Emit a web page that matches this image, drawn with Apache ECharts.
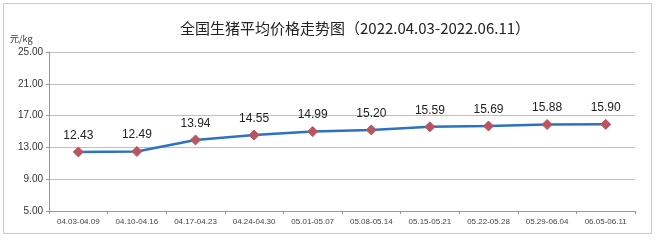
<!DOCTYPE html>
<html><head><meta charset="utf-8">
<script src="https://cdn.jsdelivr.net/npm/echarts@6/dist/echarts.min.js"></script>
<style>html,body{margin:0;padding:0;background:#fff}#c{width:656px;height:240px}</style>
</head><body><div id="c"></div>
<script>
const categories = ['04.03-04.09','04.10-04.16','04.17-04.23','04.24-04.30','05.01-05.07','05.08-05.14','05.15-05.21','05.22-05.28','05.29-06.04','06.05-06.11'];
const prices = [12.43, 12.49, 13.94, 14.55, 14.99, 15.20, 15.59, 15.69, 15.88, 15.90];
const yTicks = { min: 5, max: 25, interval: 4 };
const titleText = '全国生猪平均价格走势图（2022.04.03-2022.06.11）';
const unitText = '元/kg';

const chart = echarts.init(document.getElementById('c'), null, {renderer:'canvas'});
chart.setOption({
  animation:false,
  backgroundColor:'#fff',
  graphic:[
    {type:'rect',shape:{x:3.5,y:3.5,width:648,height:230},style:{fill:'none',stroke:'#c8c8c8',lineWidth:1}},
    {type:'text',left:10,top:34,style:{text:unitText,fontSize:9,fill:'#333',fontFamily:'Noto Sans CJK SC'}}
  ],
  title:{text:titleText,left:175,top:16,textStyle:{fontSize:15,fontWeight:'normal',color:'#222',fontFamily:'Noto Sans CJK SC'}},
  grid:{left:49,right:21,top:52,bottom:29,containLabel:false},
  xAxis:{type:'category',data:categories,boundaryGap:true,
    axisLine:{lineStyle:{color:'#999'}},
    axisTick:{show:true,length:3,lineStyle:{color:'#999'}},
    axisLabel:{fontSize:8,color:'#444',margin:7,interval:0,fontFamily:'Liberation Sans'},
    splitLine:{show:false}},
  yAxis:{type:'value',min:yTicks.min,max:yTicks.max,interval:yTicks.interval,
    axisLine:{show:true,lineStyle:{color:'#999'}},
    axisTick:{show:true,length:3,lineStyle:{color:'#999'}},
    axisLabel:{fontSize:10,color:'#333',margin:6,formatter:v=>v.toFixed(2),fontFamily:'Liberation Sans'},
    splitLine:{lineStyle:{color:'#bfbfbf',width:1}}},
  series:[{type:'line',data:prices,
    lineStyle:{color:'#2b72c0',width:2.5},
    symbol:'diamond',symbolSize:10,
    itemStyle:{color:'#b85560',borderColor:'#b85560'},
    label:{show:true,position:'top',distance:5,fontSize:12,color:'#222',formatter:p=>p.value.toFixed(2),fontFamily:'Liberation Sans'}}]
});
</script></body></html>
